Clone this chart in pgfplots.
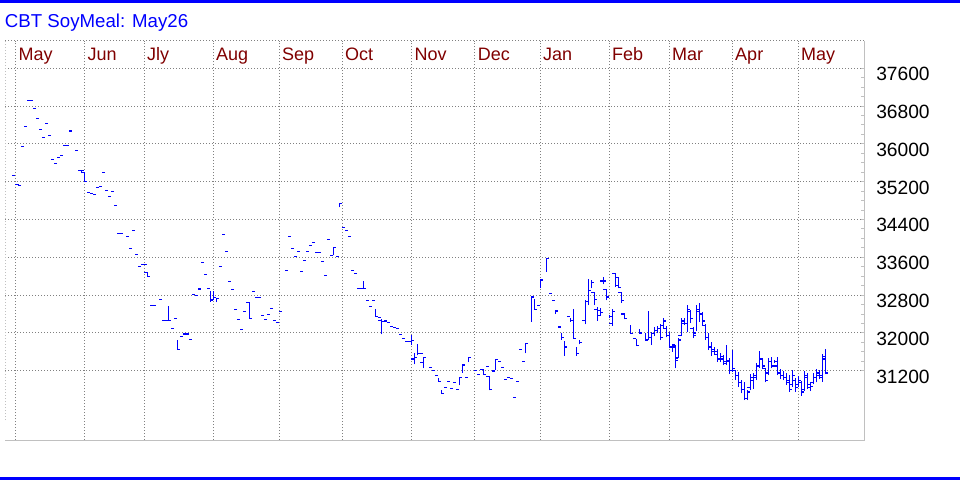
\documentclass[border=0pt]{standalone}
\usepackage{pgfplots}
\usepackage{pgfplotstable}
\usepackage{fontspec}
\setmainfont{Liberation Sans}
\pgfplotsset{compat=1.18}

\definecolor{maroon}{RGB}{128,0,0}
\definecolor{frame}{RGB}{192,192,192}
\definecolor{dotgrid}{RGB}{128,128,128}

% open tick to the left, close tick to the right
\pgfdeclareplotmark{otick}{\pgfpathmoveto{\pgfqpoint{-2.25bp}{0pt}}\pgfpathlineto{\pgfqpoint{0pt}{0pt}}\pgfusepathqstroke}
\pgfdeclareplotmark{ctick}{\pgfpathmoveto{\pgfqpoint{0pt}{0pt}}\pgfpathlineto{\pgfqpoint{2.25bp}{0pt}}\pgfusepathqstroke}

% day index, open, high, low, close
\pgfplotstableread{
x o h l c
-1 nan 35335 35335 35335
1 35144 35144 35123 35123
2 nan 35948 35948 35948
3 nan 36372 36372 36372
4 nan 36922 36922 36922
5 nan 36922 36922 36922
6 nan 36752 36752 36752
7 nan 36541 36541 36541
8 nan 36308 36308 36308
9 nan 36139 36139 36139
10 nan 36435 36435 36435
11 nan 36181 36181 36181
12 nan 35673 35673 35673
13 nan 35588 35588 35588
14 nan 35716 35716 35716
15 nan 35758 35758 35758
16 nan 35969 35969 35969
17 nan 35969 35969 35969
18 nan 36272 36272 36272
20 nan 35864 35864 35864
22 35440 35440 35383 35440
23 35398 35398 35208 35208
24 nan 34975 34975 34975
25 nan 34954 34954 34954
26 nan 34933 34933 34933
27 nan 35081 35081 35081
28 nan 35102 35102 35102
29 nan 35398 35398 35398
30 nan 35017 35017 35017
31 nan 34890 34890 34890
32 nan 34996 34996 34996
33 nan 34700 34700 34700
34 nan 34107 34107 34107
35 nan 34107 34107 34107
37 nan 34044 34044 34044
38 nan 33790 33790 33790
39 nan 34171 34171 34171
40 nan 33663 33663 33663
41 nan 33409 33409 33409
42 nan 33451 33451 33451
43 nan 33451 33451 33451
44 33282 33282 33197 33197
45 nan 32584 32584 32584
46 nan 32584 32584 32584
48 nan 32711 32711 32711
49 nan 32266 32266 32266
50 nan 32266 32266 32266
51 32266 32569 32266 32266
52 nan 32097 32097 32097
53 nan 32309 32309 32309
54 nan 31850 31653 31653
55 nan 31928 31928 31928
56 nan 31977 31977 31977
57 nan 31977 31977 31977
58 nan 31864 31864 31864
59 nan 32817 32817 32817
60 nan 32796 32796 32796
61 nan 32929 32929 32929
62 nan 33494 33494 33494
63 nan 33240 33240 33240
64 nan 32943 32943 32943
65 nan 32886 32660 32696
66 32696 32886 32696 32750
67 nan 32732 32654 32732
68 nan 33409 33409 33409
69 nan 34086 34086 34086
70 nan 33726 33726 33726
71 nan 33091 33091 33091
72 nan 32922 32922 32922
73 nan 32499 32499 32499
74 nan 32288 32288 32288
75 nan 32076 32076 32076
76 nan 32457 32457 32457
78 32647 32647 32309 32309
79 nan 32880 32880 32880
80 nan 32745 32745 32745
81 nan 32745 32745 32745
82 nan 32372 32372 32372
83 nan 32279 32279 32279
84 nan 32393 32393 32393
85 nan 32520 32520 32520
86 nan 32266 32266 32266
87 nan 32224 32224 32224
88 nan 32457 32457 32457
90 nan 33325 33325 33325
91 nan 34044 34044 34044
92 nan 33790 33790 33790
93 nan 33621 33621 33621
94 nan 33726 33726 33726
95 nan 33303 33303 33303
96 nan 33536 33536 33536
97 nan 33726 33726 33726
98 nan 33853 33853 33853
99 nan 33917 33917 33917
100 nan 33705 33705 33705
101 nan 33705 33705 33705
102 nan 33515 33515 33515
103 nan 33219 33219 33219
104 nan 33980 33980 33980
106 33642 33811 33642 33811
107 nan 33621 33621 33621
108 nan 34742 34657 34742
109 nan 34234 34234 34234
110 nan 34171 34171 34171
111 nan 34044 34044 34044
112 nan 33325 33325 33325
113 nan 33261 33261 33261
114 nan 32943 32943 32943
115 nan 32943 32943 32943
116 32943 33091 32943 32943
117 nan 32689 32689 32689
118 nan 32563 32563 32563
119 nan 32689 32689 32689
120 nan 32499 32343 32343
121 nan 32330 32330 32330
122 32266 32288 31970 32245
123 nan 32252 32252 32252
124 nan 32224 32224 32224
125 nan 32139 32139 32139
126 nan 32118 32118 32118
127 nan 32097 32097 32097
128 nan 31970 31970 31970
129 nan 31886 31886 31886
130 nan 31822 31822 31822
131 nan 31822 31822 31822
132 31822 31949 31737 31843
133 31450 31568 31335 31483
134 nan 31758 31526 31568
135 nan 31568 31568 31568
136 31378 31484 31251 31484
138 nan 31272 31272 31272
139 nan 31208 31208 31208
140 nan 31103 31103 31103
141 nan 31052 30976 30976
142 nan 30792 30722 30722
143 nan 30849 30849 30849
144 nan 30976 30976 30976
145 nan 30828 30828 30828
146 nan 30955 30955 30955
147 nan 30807 30807 30807
148 nan 31060 30891 31060
149 nan 31321 31158 31321
150 nan 31060 31060 31060
151 nan 31484 31384 31484
153 nan 31208 31208 31208
154 nan 31124 31124 31124
155 nan 31221 31221 31221
156 31230 31230 31124 31124
157 nan 31285 31285 31285
158 31082 31082 30785 30800
159 nan 31193 31193 31193
160 nan 31433 31221 31433
161 nan 31391 31391 31391
162 nan 31272 31272 31272
163 nan 31018 31018 31018
164 nan 31052 31052 31052
165 nan 31031 31031 31031
166 nan 30637 30637 30637
167 nan 30976 30976 30976
168 nan 31653 31653 31653
169 nan 31399 31399 31399
170 nan 31780 31568 31780
172 nan 32781 32237 32760
173 nan 32711 32499 32499
174 nan 32584 32584 32584
175 nan 33119 32943 33119
177 nan 33578 33295 33578
178 nan 32838 32838 32838
179 nan 32689 32689 32689
180 nan 32463 32400 32463
181 nan 32125 32125 32125
182 nan 31991 31850 31900
183 nan 31835 31517 31700
184 nan 32351 32351 32351
185 nan 32309 32237 32260
186 nan 32499 31886 31886
187 nan 31708 31517 31560
188 nan 31850 31759 31800
190 32260 32696 32182 32660
191 32660 33134 32590 32900
192 nan 33113 32944 33070
193 32859 32859 32590 32700
194 32500 32541 32258 32480
195 32364 32520 32364 32430
196 33100 33176 33028 33100
197 32922 32922 32689 32760
198 nan 32379 32309 32340
199 32200 32499 32152 32460
200 33261 33261 32977 33000
201 33170 33176 32943 32960
202 32850 32872 32639 32690
203 32400 32415 32288 32300
205 nan 32167 31991 31991
206 nan 31886 31886 31886
207 nan 31864 31723 31740
208 nan 32082 31991 32000
210 nan 31991 31835 31835
211 31860 32463 31850 31900
212 31900 32025 31744 31990
213 31980 32131 31934 32050
214 32050 32146 31991 32100
215 32100 32188 31850 31900
216 32150 32309 32097 32250
217 32100 32146 31907 31950
218 31950 32025 31674 31700
219 nan 31765 31602 31700
220 31744 31744 31251 31420
221 31470 31886 31463 31850
222 31950 32309 31934 32200
223 32250 32309 32167 32200
224 32200 32590 32012 32500
225 32450 32484 32203 32300
226 32100 32131 31886 31950
227 32000 32590 32040 32450
228 32500 32626 32237 32400
229 32400 32448 32167 32250
230 32150 32188 31850 31900
231 31900 31991 31638 31700
232 31700 31813 31511 31600
233 31650 31708 31532 31600
234 31550 31659 31391 31450
235 31450 31568 31378 31500
236 31450 31532 31321 31400
237 31350 31744 31321 31420
238 31400 31462 31130 31200
239 31200 31638 31179 31250
240 31200 31215 31003 31100
241 31100 31179 30861 30950
242 30950 31003 30722 30800
243 30800 30954 30580 30620
244 30620 30792 30580 30750
245 30850 31124 30792 31050
246 31000 31145 30813 31100
247 31050 31357 31003 31300
248 31300 31617 31251 31450
249 31450 31462 31263 31300
250 31250 31251 30955 31000
251 31150 31475 31109 31400
252 31400 31496 31251 31300
253 nan 31420 31360 31400
254 31300 31484 31109 31150
255 31150 31236 31024 31100
256 31100 31194 31003 31050
257 31050 31145 30897 30950
258 31000 31109 30756 30800
259 30900 31215 30861 31100
260 31000 31052 30756 30850
261 30900 31094 30861 31000
262 30950 30982 30671 30750
263 30800 31194 30771 31100
264 31050 31145 30813 30900
265 30850 30954 30770 30870
266 30950 31145 30912 31050
267 31050 31236 30955 31150
268 31100 31215 31024 31100
269 31050 31547 30967 31450
270 31500 31659 31124 31150
}\bars

\begin{document}
\begin{tikzpicture}
\useasboundingbox (0,0) rectangle (720bp,360bp);
\fill[blue] (0,358bp) rectangle (720bp,360bp);
\fill[blue] (0,0) rectangle (720bp,2bp);
\node[anchor=base west, inner sep=0pt, text=blue, font=\fontsize{14bp}{16bp}\selectfont]
  at (3.5bp,339.5bp) {CBT SoyMeal: May26};

\begin{axis}[
    at={(3.75bp,30bp)}, anchor=south west,
    scale only axis, width=644.25bp, height=299.6bp,
    xmin=-3.43, xmax=282.9, ymin=29734, ymax=38187,
    clip=false,
    axis line style={draw=none},
    xtick={0.13,23.1,43,66,88,109,132.1,153.2,175,198,218,239,261},
    xticklabels={May,Jun,Jly,Aug,Sep,Oct,Nov,Dec,Jan,Feb,Mar,Apr,May},
    xticklabel pos=upper,
    xticklabel style={anchor=base west, inner sep=0pt, xshift=2bp, yshift=-15bp,
        text=maroon, font=\fontsize{13.5bp}{15bp}\selectfont},
    major x tick style={draw=none},
    ytick={31200,32000,...,37600},
    minor y tick num=3,
    ytick pos=right, yticklabel pos=right,
    tick align=inside,
    major tick length=2bp, minor tick length=2bp,
    y tick style={draw=frame, line width=0.75bp},
    yticklabel style={anchor=north west, inner sep=0pt, xshift=9bp, yshift=1bp,
        font=\fontsize{14.4bp}{16bp}\selectfont},
    scaled y ticks=false,
    grid=major,
    grid style={draw=dotgrid, line width=0.75bp, dash pattern=on 0.75bp off 1.5bp},
    /pgf/number format/1000 sep={},
    /pgf/number format/assume math mode=true,
]
\addplot[draw=none, mark=none, forget plot,
    error bars/.cd, y dir=plus, y explicit, error mark=none,
    error bar style={draw=blue, line width=0.9bp}]
  table[x=x, y=l, y error expr=\thisrow{h}-\thisrow{l}] {\bars};
\addplot[blue, line width=0.9bp, only marks, mark=otick] table[x=x, y=o] {\bars};
\addplot[blue, line width=0.9bp, only marks, mark=ctick] table[x=x, y=c] {\bars};

\draw[frame, line width=0.75bp] (rel axis cs:0,0) -- (rel axis cs:1,0) -- (rel axis cs:1,1);
\draw[dotgrid, line width=0.75bp, dash pattern=on 0.75bp off 1.5bp] (rel axis cs:0,1) -- (rel axis cs:1,1);
\draw[frame, line width=0.75bp, dash pattern=on 0.75bp off 1.5bp] (rel axis cs:0,0.05) -- (rel axis cs:0,1);
\end{axis}
\end{tikzpicture}
\end{document}
